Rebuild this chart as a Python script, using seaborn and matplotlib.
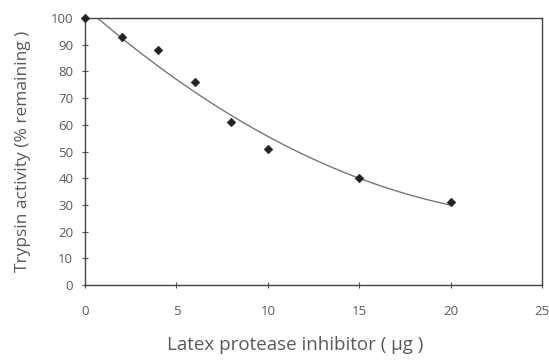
import numpy as np
import pandas as pd
import matplotlib
matplotlib.use("Agg")
import matplotlib.pyplot as plt
import seaborn as sns

# values
inhibitor_ug = [0, 2, 4, 6, 8, 10, 15, 20]
activity_pct = [100, 93, 88, 76, 61, 51, 40, 31]

x_ticks = [0, 5, 10, 15, 20, 25]
y_ticks = [0, 10, 20, 30, 40, 50, 60, 70, 80, 90, 100]

df = pd.DataFrame({"inhibitor": inhibitor_ug, "activity": activity_pct})

sns.set_style("ticks")
plt.rcParams["font.family"] = ["Open Sans", "DejaVu Sans"]
text_col = "#5a5a5a"

fig = plt.figure(figsize=(5.49, 3.60), dpi=100)
ax = fig.add_axes([0.155, 0.208, 0.832, 0.742])

# 2nd order trend line + data points
sns.regplot(data=df, x="inhibitor", y="activity", order=2, ci=None,
            truncate=True, scatter=False, ax=ax,
            line_kws={"color": "#777777", "lw": 1.0})
sns.scatterplot(data=df, x="inhibitor", y="activity", ax=ax,
                color="#222222", marker="D", s=20, edgecolor="#222222",
                zorder=5, clip_on=False)

ax.set_xlim(0, 25)
ax.set_ylim(0, 100)
ax.set_xticks(x_ticks)
ax.set_yticks(y_ticks)

for s in ax.spines.values():
    s.set_visible(True)
    s.set_color("#444444")
    s.set_linewidth(1.0)

ax.tick_params(axis="both", direction="inout", length=5, width=0.8,
               colors="#555555", labelsize=9.5, labelcolor=text_col)
ax.tick_params(axis="x", pad=12)
ax.tick_params(axis="y", pad=6)
ax.set_xlabel("Latex protease inhibitor ( μg )", fontsize=13.5,
              color=text_col)
ax.xaxis.set_label_coords(0.46, -0.19)
ax.set_ylabel("Trypsin activity (% remaining )", fontsize=12.5,
              color=text_col, labelpad=14)

fig.savefig("out.png", dpi=100, facecolor="white")
